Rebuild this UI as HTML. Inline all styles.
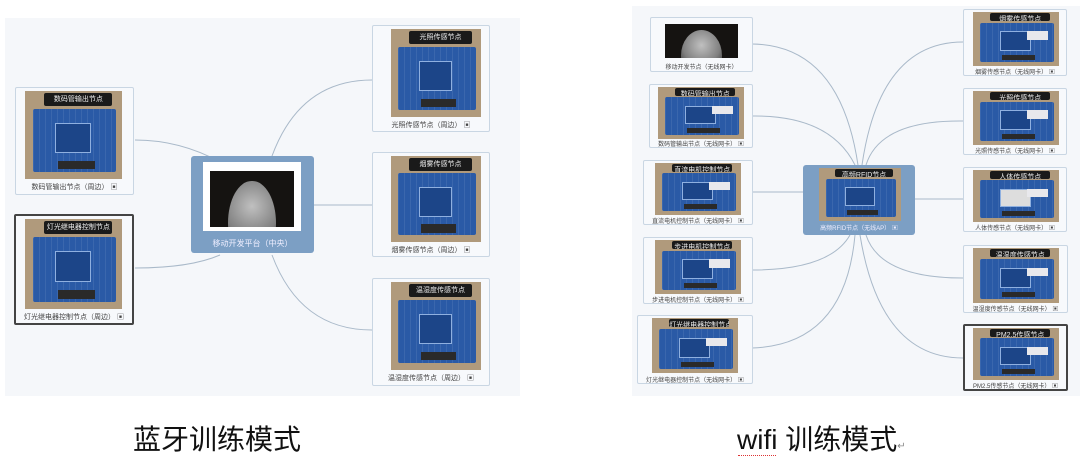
<!DOCTYPE html>
<html><head><meta charset="utf-8"><style>
body{margin:0;width:1080px;height:464px;background:#fff;position:relative;overflow:hidden;font-family:"Liberation Sans","Noto Sans CJK SC",sans-serif}
.p{position:absolute;background:#f5f7fa}
.n{position:absolute;background:#f7f9fc;border:1px solid #c9d6e3;border-radius:2px;box-sizing:border-box}
.n.dk{border:2px solid #444}
.b{position:absolute;background:#b09a7c;overflow:hidden}
.bar{position:absolute;left:20%;right:10%;top:2%;height:15%;background:#1a1a1a;color:#eee;font-size:7px;text-align:center;line-height:14px;border-radius:2px;overflow:hidden;white-space:nowrap}
.pcb{position:absolute;left:8%;right:6%;top:20%;bottom:8%;background:#2a5aa6;border-radius:2px;background-image:repeating-linear-gradient(90deg,rgba(255,255,255,.08) 0 1px,transparent 1px 6px)}
.pcb .in{position:absolute;left:27%;top:22%;width:40%;height:45%;background:#1c4588;border:1px solid #8fb0e0}
.pcb .bt{position:absolute;left:30%;bottom:4%;width:45%;height:14%;background:#2a2a2a}
.pcb .wm{position:absolute;right:8%;top:22%;width:28%;height:22%;background:#e8e8ec}
.cap{position:absolute;left:0;right:0;font-size:7px;color:#444;text-align:center;white-space:nowrap}
.c{position:absolute;background:#7c9fc4;border-radius:3px}
svg{position:absolute;left:0;top:0}
.moon{position:absolute;background:#151311;overflow:hidden}
.moon:after{content:"";position:absolute;left:22%;top:18%;width:56%;height:150%;border-radius:50%;background:radial-gradient(circle at 50% 30%,#c0c0c0,#808080 45%,#3a3a3a 70%);}
.t{position:absolute;font-size:28px;color:#111;white-space:nowrap}
</style></head><body>
<div class="p" style="left:5px;top:18px;width:515px;height:378px"></div>
<div class="p" style="left:632px;top:6px;width:448px;height:390px"></div>

<svg width="1080" height="464" fill="none" stroke="#a9b9c9" stroke-width="1">
<path d="M220 162 Q180 140 135 140"/>
<path d="M220 255 Q190 268 135 268"/>
<path d="M272 156 Q300 80 372 80"/>
<path d="M314 205 L372 205"/>
<path d="M272 255 Q300 330 372 330"/>
<path d="M858 165 Q840 45 752 44"/>
<path d="M855 165 Q830 115 752 116"/>
<path d="M803 192 L752 192"/>
<path d="M850 235 Q830 270 752 270"/>
<path d="M855 235 Q845 345 752 348"/>
<path d="M862 165 Q880 42 963 42"/>
<path d="M866 165 Q880 120 963 121"/>
<path d="M914 199 L963 199"/>
<path d="M866 235 Q880 278 963 278"/>
<path d="M860 235 Q880 358 963 358"/>
</svg>

<!-- LEFT -->
<div class="n" style="left:15px;top:87px;width:119px;height:108px">
 <div class="b" style="left:9px;top:3px;width:97px;height:88px"><div class="bar">数码管输出节点</div><div class="pcb"><div class="in"></div><div class="bt"></div></div></div>
 <div class="cap" style="top:94px">数码管输出节点（周边） ▣</div></div>
<div class="n dk" style="left:14px;top:214px;width:120px;height:111px">
 <div class="b" style="left:9px;top:3px;width:97px;height:90px"><div class="bar">灯光继电器控制节点</div><div class="pcb"><div class="in"></div><div class="bt"></div></div></div>
 <div class="cap" style="top:96px">灯光继电器控制节点（周边） ▣</div></div>
<div class="c" style="left:191px;top:156px;width:123px;height:97px">
 <div style="position:absolute;left:12px;top:6px;width:98px;height:69px;background:#fff"></div>
 <div class="moon" style="left:19px;top:15px;width:84px;height:56px"></div>
 <div class="cap" style="top:82px;color:#eef;font-size:8px">移动开发平台（中央）</div></div>
<div class="n" style="left:372px;top:25px;width:118px;height:107px">
 <div class="b" style="left:18px;top:3px;width:90px;height:88px"><div class="bar">光照传感节点</div><div class="pcb"><div class="in"></div><div class="bt"></div></div></div>
 <div class="cap" style="top:94px">光照传感节点（周边） ▣</div></div>
<div class="n" style="left:372px;top:152px;width:118px;height:105px">
 <div class="b" style="left:18px;top:3px;width:90px;height:86px"><div class="bar">烟雾传感节点</div><div class="pcb"><div class="in"></div><div class="bt"></div></div></div>
 <div class="cap" style="top:92px">烟雾传感节点（周边） ▣</div></div>
<div class="n" style="left:372px;top:278px;width:118px;height:108px">
 <div class="b" style="left:18px;top:3px;width:90px;height:88px"><div class="bar">温湿度传感节点</div><div class="pcb"><div class="in"></div><div class="bt"></div></div></div>
 <div class="cap" style="top:94px">温湿度传感节点（周边） ▣</div></div>

<!-- RIGHT -->
<div class="n" style="left:650px;top:17px;width:103px;height:55px">
 <div class="moon" style="left:14px;top:6px;width:73px;height:34px"></div>
 <div class="cap" style="top:44px;font-size:6px">移动开发节点（无线网卡）</div></div>
<div class="n" style="left:649px;top:84px;width:104px;height:64px">
 <div class="b" style="left:8px;top:2px;width:86px;height:52px"><div class="bar">数码管输出节点</div><div class="pcb"><div class="in"></div><div class="wm"></div><div class="bt"></div></div></div>
 <div class="cap" style="top:54px;font-size:6px">数码管输出节点（无线网卡） ▣</div></div>
<div class="n" style="left:643px;top:160px;width:110px;height:65px">
 <div class="b" style="left:11px;top:2px;width:86px;height:52px"><div class="bar">直流电机控制节点</div><div class="pcb"><div class="in"></div><div class="wm"></div><div class="bt"></div></div></div>
 <div class="cap" style="top:55px;font-size:6px">直流电机控制节点（无线网卡） ▣</div></div>
<div class="n" style="left:643px;top:237px;width:110px;height:67px">
 <div class="b" style="left:11px;top:2px;width:86px;height:54px"><div class="bar">步进电机控制节点</div><div class="pcb"><div class="in"></div><div class="wm"></div><div class="bt"></div></div></div>
 <div class="cap" style="top:57px;font-size:6px">步进电机控制节点（无线网卡） ▣</div></div>
<div class="n" style="left:637px;top:315px;width:116px;height:69px">
 <div class="b" style="left:14px;top:2px;width:86px;height:55px"><div class="bar">灯光继电器控制节点</div><div class="pcb"><div class="in"></div><div class="wm"></div><div class="bt"></div></div></div>
 <div class="cap" style="top:59px;font-size:6px">灯光继电器控制节点（无线网卡） ▣</div></div>
<div class="c" style="left:803px;top:165px;width:112px;height:70px">
 <div class="b" style="left:16px;top:3px;width:82px;height:53px"><div class="bar">高频RFID节点</div><div class="pcb"><div class="in"></div><div class="bt"></div></div></div>
 <div class="cap" style="top:58px;color:#eef;font-size:6px">高频RFID节点（无线AP） ▣</div></div>
<div class="n" style="left:963px;top:9px;width:104px;height:67px">
 <div class="b" style="left:9px;top:2px;width:86px;height:54px"><div class="bar">烟雾传感节点</div><div class="pcb"><div class="in"></div><div class="wm"></div><div class="bt"></div></div></div>
 <div class="cap" style="top:57px;font-size:6px">烟雾传感节点（无线网卡） ▣</div></div>
<div class="n" style="left:963px;top:88px;width:104px;height:67px">
 <div class="b" style="left:9px;top:2px;width:86px;height:54px"><div class="bar">光照传感节点</div><div class="pcb"><div class="in"></div><div class="wm"></div><div class="bt"></div></div></div>
 <div class="cap" style="top:57px;font-size:6px">光照传感节点（无线网卡） ▣</div></div>
<div class="n" style="left:963px;top:167px;width:104px;height:65px">
 <div class="b" style="left:9px;top:2px;width:86px;height:52px"><div class="bar">人体传感节点</div><div class="pcb"><div class="in" style="background:#ddd"></div><div class="wm"></div><div class="bt"></div></div></div>
 <div class="cap" style="top:55px;font-size:6px">人体传感节点（无线网卡） ▣</div></div>
<div class="n" style="left:963px;top:245px;width:105px;height:68px">
 <div class="b" style="left:9px;top:2px;width:86px;height:55px"><div class="bar">温湿度传感节点</div><div class="pcb"><div class="in"></div><div class="wm"></div><div class="bt"></div></div></div>
 <div class="cap" style="top:58px;font-size:6px">温湿度传感节点（无线网卡） ▣</div></div>
<div class="n dk" style="left:963px;top:324px;width:105px;height:67px">
 <div class="b" style="left:8px;top:2px;width:86px;height:52px"><div class="bar">PM2.5传感节点</div><div class="pcb"><div class="in"></div><div class="wm"></div><div class="bt"></div></div></div>
 <div class="cap" style="top:55px;font-size:6px">PM2.5传感节点（无线网卡） ▣</div></div>

<div class="t" style="left:133px;top:418px">蓝牙训练模式</div>
<div class="t" style="left:737px;top:418px">wifi 训练模式<span style="font-size:10px;color:#888">↵</span></div>
<div style="position:absolute;left:738px;top:455px;width:38px;border-top:1px dotted #d33"></div>
</body></html>
